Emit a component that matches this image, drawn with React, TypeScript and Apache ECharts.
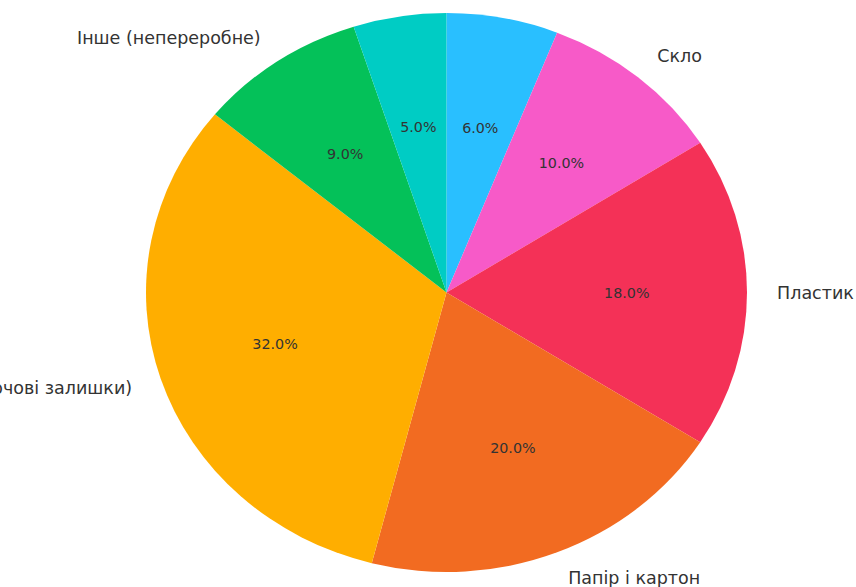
import React, { useEffect, useRef } from "react";
import * as echarts from "echarts";

// Slices listed clockwise from the top (12 o'clock)
const categories = [
  "Метал",
  "Скло",
  "Пластик",
  "Папір і картон",
  "Органічні (харчові залишки)",
  "Інше (непереробне)",
  "Текстиль",
];
const shares = [6, 10, 18, 20, 32, 9, 5];
const sliceColors = ["#29BFFF", "#F75AC8", "#F43157", "#F26B21", "#FFAE00", "#04C159", "#00CCC4"];

const FONT = "'DejaVu Sans', Verdana, sans-serif";

export default function App() {
  const ref = useRef<HTMLDivElement>(null);

  useEffect(() => {
    document.body.style.margin = "0";
    const chart = echarts.init(ref.current!, null, { renderer: "svg" });
    const total = shares.reduce((a, b) => a + b, 0);

    const renderItem = (params: any, api: any) => {
      const i = params.dataIndex;
      let before = 0;
      for (let j = 0; j < i; j++) before += shares[j];
      const share = api.value(2);
      const a0 = ((90 - (before / total) * 360) * Math.PI) / 180;
      const a1 = ((90 - ((before + share) / total) * 360) * Math.PI) / 180;
      const c = api.coord([0, 0]);
      const p0 = api.coord([Math.cos(a0), Math.sin(a0)]);
      const p1 = api.coord([Math.cos(a1), Math.sin(a1)]);
      const rx = api.coord([1, 0])[0] - c[0];
      const ry = c[1] - api.coord([0, 1])[1];
      const large = (share / total) * 360 > 180 ? 1 : 0;
      const pathData = `M${c[0]} ${c[1]} L${p0[0]} ${p0[1]} A${rx} ${ry} 0 ${large} 1 ${p1[0]} ${p1[1]} Z`;
      const mid = (a0 + a1) / 2;
      const pct = api.coord([0.6 * Math.cos(mid), 0.6 * Math.sin(mid)]);
      const lab = api.coord([1.1 * Math.cos(mid), 1.1 * Math.sin(mid)]);
      const children: any[] = [
        {
          type: "path",
          shape: { pathData },
          style: { fill: sliceColors[i], stroke: null },
        },
        {
          type: "text",
          x: pct[0],
          y: pct[1],
          style: {
            text: ((share / total) * 100).toFixed(1) + "%",
            fill: "#333333",
            font: `14.3px ${FONT}`,
            align: "center",
            verticalAlign: "middle",
          },
        },
      ];
      // Outer name labels whose anchor lies above the canvas are not visible in the reference
      if (lab[1] > 0) {
        children.push({
          type: "text",
          x: lab[0],
          y: lab[1],
          style: {
            text: categories[i],
            fill: "#333333",
            font: `17.5px ${FONT}`,
            align: Math.cos(mid) >= 0 ? "left" : "right",
            verticalAlign: "middle",
          },
        });
      }
      return { type: "group", children };
    };

    chart.setOption({
      animation: false,
      backgroundColor: "#ffffff",
      grid: { left: 146, top: 13, width: 601, height: 559 },
      xAxis: { type: "value", min: -1, max: 1, show: false },
      yAxis: { type: "value", min: -1, max: 1, show: false },
      series: [
        {
          type: "custom",
          clip: false,
          renderItem,
          data: shares.map((s) => [0, 0, s]),
        },
      ],
    });
    return () => chart.dispose();
  }, []);

  return (
    <div
      ref={ref}
      style={{ position: "fixed", left: 0, top: 0, width: 856, height: 587 }}
    />
  );
}
